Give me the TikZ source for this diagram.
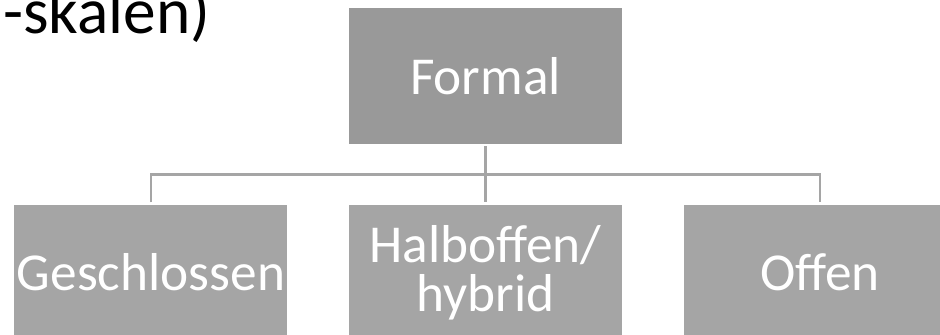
\documentclass[tikz,border=0pt]{standalone}
\usepackage{fontspec}
\setmainfont{Carlito}
\usetikzlibrary{positioning,calc}

\definecolor{boxtop}{HTML}{999999}
\definecolor{boxlow}{HTML}{A5A5A5}
\definecolor{linkgray}{HTML}{A5A5A5}

\tikzset{
  level/.style={rectangle, fill=boxlow, text=white, inner sep=0pt,
    minimum width=204.75pt, minimum height=102pt, align=center,
    font=\fontsize{40}{37}\selectfont},
  link/.style={draw=linkgray, line width=2pt, shorten >=1.5pt}
}

\begin{document}
\begin{tikzpicture}[x=0.75pt,y=-0.75pt,node distance=45pt and 45.75pt]
  \useasboundingbox (0,0) rectangle (940,335);
  \clip (0,0) rectangle (940,335);
  \node[anchor=base west, inner sep=0pt, font=\fontsize{49}{58}\selectfont] (skala) at (3,34) {-skalen)};
  \node[level, fill=boxtop] (formal) at (485.5,76) {Formal};
  \node[level] (half) [below=of formal] {Halboffen/\\hybrid};
  \node[level] (geschl) [left=of half] {Geschlossen};
  \node[level] (offen) [right=of half] {Offen};
  % bus line between the two levels
  \coordinate (bus) at ($(formal.south)!.5!(half.north)$);
  \draw[link, shorten <=1.5pt] (formal) -- (half);
  \draw[link, shorten <=1.5pt] (geschl.north) |- (bus) -| (offen.north);
\end{tikzpicture}
\end{document}
